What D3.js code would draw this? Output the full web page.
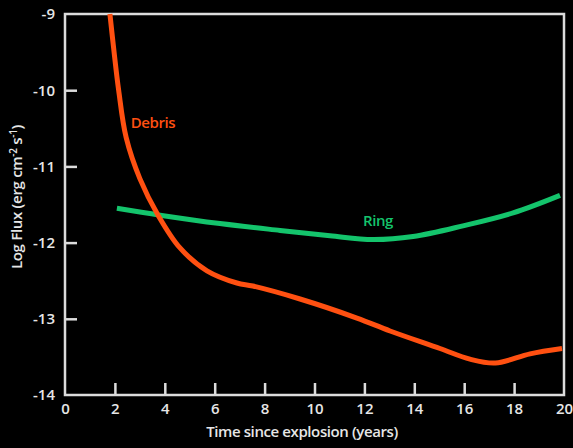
<!DOCTYPE html>
<html>
<head>
<meta charset="utf-8">
<script src="https://cdn.jsdelivr.net/npm/d3@7"></script>
<style>
  html, body { margin: 0; padding: 0; background: #000; }
  svg { display: block; }
  text { font-family: "Open Sans", "DejaVu Sans", sans-serif; fill: #e6e6e6; }
</style>
</head>
<body>
<div id="chart"></div>
<script>
// data (years, log flux)
var debrisYears = [1.80, 1.95, 2.15, 2.45, 3.00, 3.73, 4.61, 5.69, 6.89, 7.53, 9.42, 11.70, 13.03, 15.03, 16.23, 17.25, 18.64, 19.92];
var debrisFlux  = [-9.0, -9.45, -10.0, -10.62, -11.16, -11.64, -12.07, -12.37, -12.53, -12.57, -12.74, -12.99, -13.16, -13.39, -13.53, -13.58, -13.46, -13.39];
var ringYears = [2.08, 3.81, 6.21, 8.62, 10.62, 12.34, 13.95, 15.95, 17.96, 19.84];
var ringFlux  = [-11.55, -11.64, -11.75, -11.84, -11.91, -11.96, -11.92, -11.78, -11.61, -11.38];
var xTicks = [0, 2, 4, 6, 8, 10, 12, 14, 16, 18, 20];
var yTicks = [-9, -10, -11, -12, -13, -14];

var W = 573, H = 448;
// plot box (note: "top" is reserved on window, so use pad names)
var pad = { left: 65, right: 564, top: 14, bottom: 395 };

var svg = d3.select("#chart").append("svg")
  .attr("width", W)
  .attr("height", H);

var x = d3.scaleLinear().domain([0, 20]).range([pad.left, pad.right]);
var y = d3.scaleLinear().domain([-14, -9]).range([pad.bottom, pad.top]);

var axisCol = "#dcdcdc";

// frame
svg.append("rect")
  .attr("x", pad.left).attr("y", pad.top)
  .attr("width", pad.right - pad.left).attr("height", pad.bottom - pad.top)
  .style("fill", "none")
  .style("stroke", axisCol)
  .style("stroke-width", 2.5);

// bottom axis, ticks point inward
var xAxis = svg.append("g")
  .attr("transform", "translate(0," + pad.bottom + ")")
  .call(d3.axisBottom(x).tickValues(xTicks).tickSize(0).tickPadding(8));
xAxis.select(".domain").remove();
xAxis.selectAll(".tick").append("line")
  .attr("y1", 0).attr("y2", function(d) { return (d > 0 && d < 20) ? -12 : 0; })
  .style("stroke", axisCol).style("stroke-width", 2.5);
xAxis.selectAll("text")
  .style("font-size", "15px").style("font-weight", 600)
  .style("fill", "#e6e6e6").attr("font-family", null);

// left axis, plain hyphen for minus like the original
var yAxis = svg.append("g")
  .attr("transform", "translate(" + pad.left + ",0)")
  .call(d3.axisLeft(y).tickValues(yTicks).tickSize(0).tickPadding(10)
    .tickFormat(function(d) { return String(d); }));
yAxis.select(".domain").remove();
yAxis.selectAll(".tick").append("line")
  .attr("x1", 0).attr("x2", function(d) { return (d > -14 && d < -9) ? 12 : 0; })
  .style("stroke", axisCol).style("stroke-width", 2.5);
yAxis.selectAll("text")
  .style("font-size", "15px").style("font-weight", 600)
  .style("fill", "#e6e6e6").attr("font-family", null);

// axis titles
svg.append("text")
  .attr("x", 302).attr("y", 437)
  .attr("text-anchor", "middle")
  .style("font-size", "15px").style("font-weight", 600)
  .style("letter-spacing", "-0.4px")
  .text("Time since explosion (years)");

var yt = svg.append("text")
  .attr("transform", "translate(22,197) rotate(-90)")
  .attr("text-anchor", "middle")
  .style("font-size", "15px").style("font-weight", 600)
  .style("letter-spacing", "-0.3px");
yt.append("tspan").text("Log  Flux (erg cm");
yt.append("tspan").attr("dy", -5).style("font-size", "10px").text("-2");
yt.append("tspan").attr("dy", 5).text(" s");
yt.append("tspan").attr("dy", -5).style("font-size", "10px").text("-1");
yt.append("tspan").attr("dy", 5).text(")");

// curves
var line = d3.line()
  .x(function(d) { return x(d[0]); })
  .y(function(d) { return y(d[1]); })
  .curve(d3.curveCatmullRom.alpha(0.5));

var ringCol = "#14c46c", debrisCol = "#ff5011";

svg.append("path")
  .attr("d", line(d3.zip(ringYears, ringFlux)))
  .style("fill", "none").style("stroke", ringCol).style("stroke-width", 5);

svg.append("path")
  .attr("d", line(d3.zip(debrisYears, debrisFlux)))
  .style("fill", "none").style("stroke", debrisCol).style("stroke-width", 5);

// series labels
svg.append("text")
  .attr("x", 153).attr("y", 128)
  .attr("text-anchor", "middle")
  .style("font-size", "15px").style("font-weight", 600)
  .style("letter-spacing", "-0.4px")
  .style("fill", debrisCol)
  .text("Debris");

svg.append("text")
  .attr("x", 378).attr("y", 226)
  .attr("text-anchor", "middle")
  .style("font-size", "15px").style("font-weight", 600)
  .style("letter-spacing", "-0.4px")
  .style("fill", ringCol)
  .text("Ring");
</script>
</body>
</html>
